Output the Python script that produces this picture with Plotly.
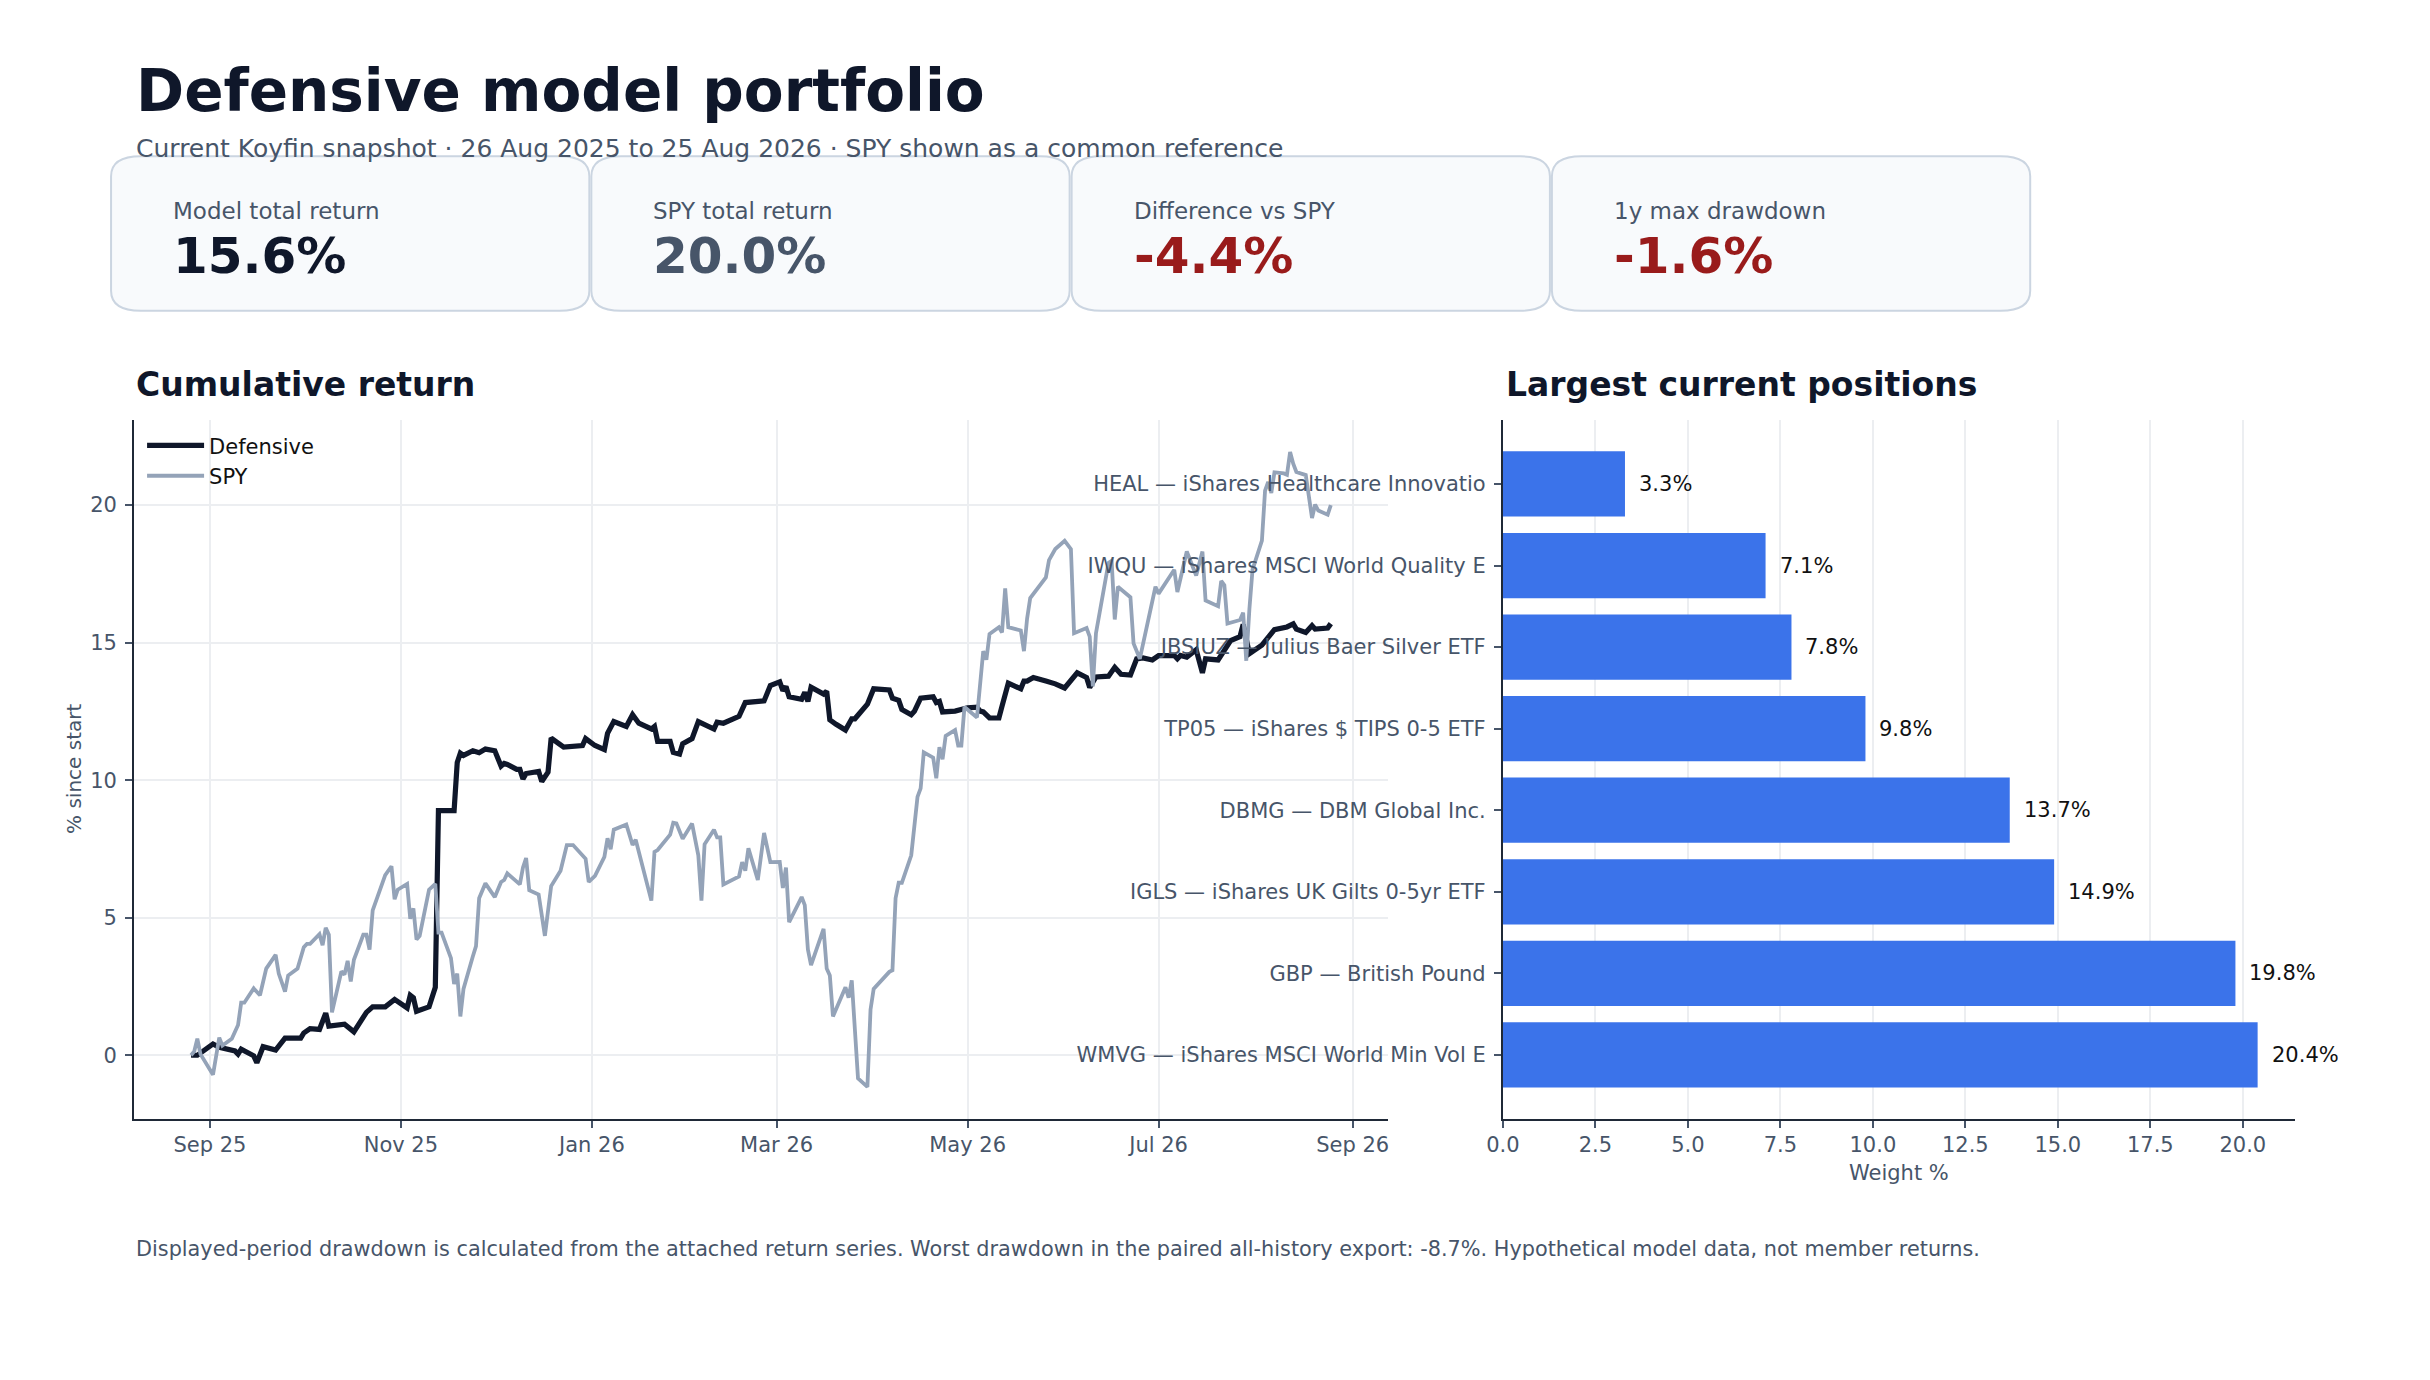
import plotly.graph_objects as go

W, H = 2430, 1380
FONT = "DejaVu Sans"

# cumulative return, % since start
def_dates = [
    "2025-08-26", "2025-08-28", "2025-09-02", "2025-09-04", "2025-09-09", "2025-09-10",
    "2025-09-11", "2025-09-15", "2025-09-16", "2025-09-18", "2025-09-22", "2025-09-25",
    "2025-09-30", "2025-10-01", "2025-10-03", "2025-10-06", "2025-10-08", "2025-10-09",
    "2025-10-14", "2025-10-17", "2025-10-21", "2025-10-23", "2025-10-27", "2025-10-30",
    "2025-11-03", "2025-11-04", "2025-11-05", "2025-11-06", "2025-11-10", "2025-11-12",
    "2025-11-13", "2025-11-18", "2025-11-19", "2025-11-20", "2025-11-21", "2025-11-24",
    "2025-11-26", "2025-11-28", "2025-12-01", "2025-12-03", "2025-12-04", "2025-12-05",
    "2025-12-08", "2025-12-09", "2025-12-10", "2025-12-11", "2025-12-15", "2025-12-16",
    "2025-12-18", "2025-12-19", "2025-12-22", "2025-12-23", "2025-12-29", "2025-12-30",
    "2026-01-02", "2026-01-05", "2026-01-06", "2026-01-08", "2026-01-12", "2026-01-14",
    "2026-01-16", "2026-01-20", "2026-01-21", "2026-01-22", "2026-01-26", "2026-01-27",
    "2026-01-29", "2026-01-30", "2026-02-02", "2026-02-04", "2026-02-09", "2026-02-10",
    "2026-02-12", "2026-02-17", "2026-02-19", "2026-02-25", "2026-02-27", "2026-03-02",
    "2026-03-03", "2026-03-04", "2026-03-05", "2026-03-09", "2026-03-10", "2026-03-11",
    "2026-03-12", "2026-03-16", "2026-03-17", "2026-03-18", "2026-03-20", "2026-03-23",
    "2026-03-25", "2026-03-26", "2026-03-30", "2026-04-01", "2026-04-06", "2026-04-07",
    "2026-04-09", "2026-04-10", "2026-04-13", "2026-04-14", "2026-04-16", "2026-04-20",
    "2026-04-21", "2026-04-22", "2026-04-23", "2026-04-27", "2026-05-01", "2026-05-04",
    "2026-05-05", "2026-05-06", "2026-05-08", "2026-05-11", "2026-05-12", "2026-05-14",
    "2026-05-18", "2026-05-19", "2026-05-20", "2026-05-22", "2026-05-26", "2026-05-29",
    "2026-06-01", "2026-06-05", "2026-06-08", "2026-06-09", "2026-06-11", "2026-06-15",
    "2026-06-17", "2026-06-19", "2026-06-22", "2026-06-24", "2026-06-26", "2026-06-29",
    "2026-07-01", "2026-07-06", "2026-07-07", "2026-07-08", "2026-07-10", "2026-07-13",
    "2026-07-15", "2026-07-16", "2026-07-20", "2026-07-24", "2026-07-27", "2026-07-28",
    "2026-07-30", "2026-08-03", "2026-08-07", "2026-08-11", "2026-08-13", "2026-08-14",
    "2026-08-17", "2026-08-19", "2026-08-20", "2026-08-24", "2026-08-25",
]
def_vals = [
    0.00, 0.00, 0.41, 0.29, 0.16, 0.04,
    0.22, -0.02, -0.27, 0.31, 0.19, 0.62,
    0.62, 0.81, 0.97, 0.94, 1.53, 1.06,
    1.13, 0.85, 1.56, 1.76, 1.76, 2.03,
    1.72, 2.18, 2.09, 1.60, 1.76, 2.47,
    8.89, 8.89, 10.64, 10.98, 10.90, 11.07,
    11.00, 11.13, 11.07, 10.51, 10.61, 10.57,
    10.39, 10.39, 10.04, 10.24, 10.32, 9.95,
    10.29, 11.53, 11.28, 11.20, 11.26, 11.51,
    11.26, 11.11, 11.70, 12.13, 11.95, 12.38,
    12.07, 11.86, 11.95, 11.41, 11.41, 11.01,
    10.95, 11.32, 11.51, 12.13, 11.86, 12.11,
    12.07, 12.32, 12.82, 12.88, 13.44, 13.57,
    13.25, 13.40, 13.03, 12.94, 13.19, 12.86,
    13.38, 13.13, 13.23, 12.19, 12.03, 11.82,
    12.23, 12.23, 12.76, 13.32, 13.28, 12.98,
    12.90, 12.57, 12.38, 12.50, 12.98, 13.03,
    12.82, 12.86, 12.48, 12.51, 12.63, 12.65,
    12.51, 12.48, 12.26, 12.26, 12.69, 13.53,
    13.32, 13.60, 13.60, 13.73, 13.60, 13.50,
    13.35, 13.90, 13.73, 13.37, 13.75, 13.78,
    14.10, 13.85, 13.82, 14.41, 14.44, 14.37,
    14.53, 14.53, 14.41, 14.53, 14.47, 14.74,
    13.90, 14.41, 14.37, 15.07, 15.22, 15.66,
    14.60, 14.91, 15.47, 15.57, 15.68, 15.49,
    15.37, 15.62, 15.49, 15.53, 15.69,
]

spy_dates = [
    "2025-08-26", "2025-08-27", "2025-08-28", "2025-08-29", "2025-09-02", "2025-09-04",
    "2025-09-05", "2025-09-08", "2025-09-10", "2025-09-11", "2025-09-12", "2025-09-15",
    "2025-09-17", "2025-09-19", "2025-09-22", "2025-09-23", "2025-09-25", "2025-09-26",
    "2025-09-29", "2025-10-01", "2025-10-02", "2025-10-03", "2025-10-06", "2025-10-07",
    "2025-10-08", "2025-10-09", "2025-10-10", "2025-10-13", "2025-10-14", "2025-10-15",
    "2025-10-16", "2025-10-17", "2025-10-20", "2025-10-21", "2025-10-22", "2025-10-23",
    "2025-10-27", "2025-10-29", "2025-10-30", "2025-10-31", "2025-11-03", "2025-11-04",
    "2025-11-05", "2025-11-06", "2025-11-07", "2025-11-10", "2025-11-12", "2025-11-13",
    "2025-11-14", "2025-11-17", "2025-11-18", "2025-11-19", "2025-11-20", "2025-11-21",
    "2025-11-24", "2025-11-25", "2025-11-26", "2025-11-28", "2025-12-01", "2025-12-03",
    "2025-12-04", "2025-12-05", "2025-12-09", "2025-12-10", "2025-12-11", "2025-12-12",
    "2025-12-15", "2025-12-17", "2025-12-19", "2025-12-22", "2025-12-24", "2025-12-26",
    "2025-12-30", "2025-12-31", "2026-01-02", "2026-01-05", "2026-01-06", "2026-01-07",
    "2026-01-08", "2026-01-12", "2026-01-13", "2026-01-14", "2026-01-15", "2026-01-20",
    "2026-01-21", "2026-01-22", "2026-01-26", "2026-01-27", "2026-01-28", "2026-01-30",
    "2026-02-02", "2026-02-04", "2026-02-05", "2026-02-06", "2026-02-09", "2026-02-10",
    "2026-02-11", "2026-02-12", "2026-02-17", "2026-02-18", "2026-02-19", "2026-02-20",
    "2026-02-23", "2026-02-25", "2026-02-27", "2026-03-02", "2026-03-03", "2026-03-04",
    "2026-03-05", "2026-03-09", "2026-03-10", "2026-03-11", "2026-03-12", "2026-03-16",
    "2026-03-17", "2026-03-18", "2026-03-19", "2026-03-23", "2026-03-24", "2026-03-25",
    "2026-03-27", "2026-03-30", "2026-03-31", "2026-04-01", "2026-04-06", "2026-04-07",
    "2026-04-08", "2026-04-09", "2026-04-10", "2026-04-13", "2026-04-15", "2026-04-16",
    "2026-04-17", "2026-04-20", "2026-04-21", "2026-04-22", "2026-04-23", "2026-04-24",
    "2026-04-27", "2026-04-28", "2026-04-29", "2026-04-30", "2026-05-04", "2026-05-06",
    "2026-05-07", "2026-05-08", "2026-05-11", "2026-05-12", "2026-05-13", "2026-05-14",
    "2026-05-18", "2026-05-19", "2026-05-20", "2026-05-21", "2026-05-26", "2026-05-27",
    "2026-05-29", "2026-06-01", "2026-06-03", "2026-06-04", "2026-06-08", "2026-06-09",
    "2026-06-10", "2026-06-11", "2026-06-15", "2026-06-16", "2026-06-17", "2026-06-18",
    "2026-06-22", "2026-06-23", "2026-06-25", "2026-06-30", "2026-07-01", "2026-07-06",
    "2026-07-07", "2026-07-10", "2026-07-13", "2026-07-15", "2026-07-16", "2026-07-20",
    "2026-07-21", "2026-07-22", "2026-07-23", "2026-07-27", "2026-07-28", "2026-07-29",
    "2026-07-30", "2026-07-31", "2026-08-03", "2026-08-04", "2026-08-05", "2026-08-06",
    "2026-08-07", "2026-08-10", "2026-08-11", "2026-08-12", "2026-08-13", "2026-08-14",
    "2026-08-17", "2026-08-18", "2026-08-19", "2026-08-20", "2026-08-21", "2026-08-24",
    "2026-08-25",
]
spy_vals = [
    0.00, 0.14, 0.60, 0.04, -0.71, 0.64,
    0.35, 0.60, 1.10, 1.91, 1.91, 2.43,
    2.18, 3.15, 3.65, 2.97, 2.31, 2.90,
    3.15, 3.93, 4.05, 4.05, 4.40, 4.00,
    4.63, 4.38, 1.56, 3.05, 2.93, 3.43,
    2.68, 3.47, 4.38, 4.38, 3.84, 5.27,
    6.55, 6.87, 5.67, 6.02, 6.23, 4.96,
    5.34, 4.21, 4.34, 6.02, 6.23, 4.46,
    4.46, 3.53, 2.59, 2.97, 1.41, 2.41,
    3.60, 3.97, 5.71, 6.25, 5.75, 6.30,
    6.37, 6.61, 6.21, 6.83, 7.17, 6.00,
    5.84, 4.34, 6.15, 6.71, 7.64, 7.64,
    7.14, 6.30, 6.52, 7.21, 7.89, 7.49,
    8.20, 8.39, 8.02, 7.64, 7.83, 5.62,
    7.39, 7.46, 8.02, 8.45, 8.43, 7.87,
    8.42, 7.27, 5.62, 7.67, 8.20, 7.92,
    7.92, 6.21, 6.50, 7.02, 6.71, 7.52,
    6.37, 8.08, 7.02, 7.03, 6.08, 6.82,
    4.84, 5.75, 5.46, 3.84, 3.28, 4.59,
    3.15, 2.90, 1.41, 2.47, 2.09, 2.72,
    -0.84, -1.15, 1.66, 2.41, 3.03, 3.09,
    5.71, 6.27, 6.27, 7.27, 9.39, 9.70,
    11.01, 10.82, 10.07, 11.20, 10.76, 11.61,
    11.82, 11.26, 11.26, 12.66, 12.28, 14.69,
    14.38, 15.31, 15.56, 15.37, 16.97, 15.56,
    15.44, 14.69, 15.87, 16.62, 17.37, 18.00,
    18.40, 18.70, 18.40, 15.34, 15.53, 15.22,
    13.41, 15.34, 17.90, 17.97, 15.84, 17.03,
    16.65, 14.97, 14.41, 17.03, 16.78, 17.65,
    16.84, 18.31, 17.44, 18.31, 16.53, 16.32,
    17.24, 17.09, 15.69, 15.82, 16.09, 14.34,
    16.22, 17.65, 18.71, 20.52, 20.84, 20.44,
    21.19, 21.15, 21.10, 21.93, 21.50, 21.20,
    21.09, 20.34, 19.53, 20.02, 19.80, 19.65,
    20.00,
]

# largest current positions (bottom to top)
position_labels = [
    "WMVG — iShares MSCI World Min Vol E",
    "GBP — British Pound",
    "IGLS — iShares UK Gilts 0-5yr ETF",
    "DBMG — DBM Global Inc.",
    "TP05 — iShares $ TIPS 0-5 ETF",
    "JBSIUZ — Julius Baer Silver ETF",
    "IWQU — iShares MSCI World Quality E",
    "HEAL — iShares Healthcare Innovatio",
]
position_weights = [20.4, 19.8, 14.9, 13.7, 9.8, 7.8, 7.1, 3.3]

# KPI cards
card_labels = ["Model total return", "SPY total return", "Difference vs SPY", "1y max drawdown"]
card_values = ["15.6%", "20.0%", "-4.4%", "-1.6%"]
card_colors = ["#0f172a", "#475569", "#991b1b", "#991b1b"]

INK = "#0f172a"
MUTED = "#475569"
AXIS = "#1f2937"
GRID = "#eceef1"


# pixel positions below are measured on the target; the capture of the page
# comes out slightly squeezed to the right, so pull everything back a bit
def px(x):
    return (x - 18.0) / 0.992 / W


def py(y):
    return 1 - (y / 1.004) / H


def rounded_rect(x0, y0, x1, y1, rx, ry):
    # path in paper coords, corners drawn with quadratic curves
    a, b, c, d = px(x0), py(y0), px(x1), py(y1)
    dx, dy = rx / W, ry / H
    return (f"M {a+dx},{b} L {c-dx},{b} Q {c},{b} {c},{b-dy} "
            f"L {c},{d+dy} Q {c},{d} {c-dx},{d} L {a+dx},{d} "
            f"Q {a},{d} {a},{d+dy} L {a},{b-dy} Q {a},{b} {a+dx},{b} Z")


fig = go.Figure()

fig.add_trace(go.Scatter(
    x=def_dates, y=def_vals, name="Defensive", mode="lines",
    line=dict(color=INK, width=5.2), xaxis="x", yaxis="y",
))
fig.add_trace(go.Scatter(
    x=spy_dates, y=spy_vals, name="SPY", mode="lines",
    line=dict(color="#94a3b8", width=3.8), xaxis="x", yaxis="y",
))
fig.add_trace(go.Bar(
    x=position_weights, y=position_labels, orientation="h",
    marker=dict(color="#3b73ea", line=dict(width=0)),
    showlegend=False, xaxis="x2", yaxis="y2",
))

annotations = []

# header
annotations.append(dict(text="<b>Defensive model portfolio</b>", x=px(135), y=py(91),
                        xanchor="left", yanchor="middle", font=dict(size=58, color=INK)))
annotations.append(dict(
    text="Current Koyfin snapshot · 26 Aug 2025 to 25 Aug 2026 · SPY shown as a common reference",
    x=px(135), y=py(149), xanchor="left", yanchor="middle", font=dict(size=25, color=MUTED)))

shapes = []
card_left = [112, 592, 1072, 1552]
for i in range(4):
    x0 = card_left[i]
    shapes.append(dict(type="path", xref="paper", yref="paper",
                       path=rounded_rect(x0, 157, x0 + 478, 312, 30, 20),
                       fillcolor="#f8fafc", line=dict(color="#cbd5e1", width=2), layer="below"))
    annotations.append(dict(text=card_labels[i], x=px(x0 + 60), y=py(212), xanchor="left",
                            yanchor="middle", font=dict(size=23, color=MUTED)))
    annotations.append(dict(text=f"<b>{card_values[i]}</b>", x=px(x0 + 60), y=py(257),
                            xanchor="left", yanchor="middle",
                            font=dict(size=50, color=card_colors[i])))

# section titles
annotations.append(dict(text="<b>Cumulative return</b>", x=px(135), y=py(386), xanchor="left",
                        yanchor="middle", font=dict(size=33, color=INK)))
annotations.append(dict(text="<b>Largest current positions</b>", x=px(1504), y=py(386),
                        xanchor="left", yanchor="middle", font=dict(size=33, color=INK)))

# axis titles
annotations.append(dict(text="% since start", x=px(75), y=py(772), textangle=-90,
                        xanchor="center", yanchor="middle", font=dict(size=20, color=MUTED)))
annotations.append(dict(text="Weight %", x=px(1899), y=py(1178), xanchor="center",
                        yanchor="middle", font=dict(size=21, color=MUTED)))

# bar value labels
for lab, w in zip(position_labels, position_weights):
    annotations.append(dict(text=f"{w:.1f}%", x=w, y=lab, xref="x2", yref="y2",
                            xanchor="left", yanchor="middle", xshift=12, showarrow=False,
                            font=dict(size=21, color="#111111")))

# footer
annotations.append(dict(
    text="Displayed-period drawdown is calculated from the attached return series. "
         "Worst drawdown in the paired all-history export: -8.7%. "
         "Hypothetical model data, not member returns.",
    x=px(135), y=py(1254), xanchor="left", yanchor="middle", font=dict(size=20.8, color=MUTED)))

for a in annotations:
    a.setdefault("xref", "paper")
    a.setdefault("yref", "paper")
    a.setdefault("showarrow", False)

tickfont = dict(family=FONT, size=21, color=MUTED)
axis_common = dict(showline=True, linecolor=AXIS, linewidth=2,
                   ticks="outside", ticklen=7, tickwidth=1.5, tickcolor=MUTED,
                   tickfont=tickfont, zeroline=False)

fig.update_layout(
    width=W, height=H,
    margin=dict(l=0, r=0, t=0, b=0),
    paper_bgcolor="white", plot_bgcolor="white",
    font=dict(family=FONT, color=INK),
    bargap=0.2,
    showlegend=True,
    legend=dict(x=px(143), y=py(427), xanchor="left", yanchor="top",
                bgcolor="rgba(0,0,0,0)", font=dict(size=21, color="#111111"),
                itemwidth=57, tracegroupgap=0),
    xaxis=dict(
        domain=[px(135), px(1388)], anchor="y", type="date",
        range=["2025-08-07 19:00", "2026-09-12 05:00"],
        tick0="2025-09-01", dtick="M2", tickformat="%b %y",
        showgrid=True, gridcolor=GRID, gridwidth=1.5, ticklabelstandoff=-1,
        **axis_common,
    ),
    yaxis=dict(
        domain=[py(1123), py(422)], anchor="x",
        range=[-2.3, 23.08], tick0=0, dtick=5,
        showgrid=True, gridcolor=GRID, gridwidth=1.5, ticklabelstandoff=4,
        **axis_common,
    ),
    xaxis2=dict(
        domain=[px(1503), px(2295)], anchor="y2",
        range=[0, 21.42], tick0=0, dtick=2.5, tickformat=".1f",
        showgrid=True, gridcolor=GRID, gridwidth=1.5, ticklabelstandoff=-1,
        **axis_common,
    ),
    yaxis2=dict(
        domain=[py(1123), py(422)], anchor="x2", type="category",
        categoryorder="array", categoryarray=position_labels,
        range=[-0.78, 7.78], showgrid=False, ticklabelstandoff=4,
        **axis_common,
    ),
    annotations=annotations,
    shapes=shapes,
)

page_js = ("var s=document.documentElement.style;s.margin='0';s.padding='0';s.overflow='hidden';"
           "var b=document.body.style;b.margin='0';b.padding='0';b.overflow='hidden';")
fig.write_html("out.html", post_script=page_js, config={"displayModeBar": False})
